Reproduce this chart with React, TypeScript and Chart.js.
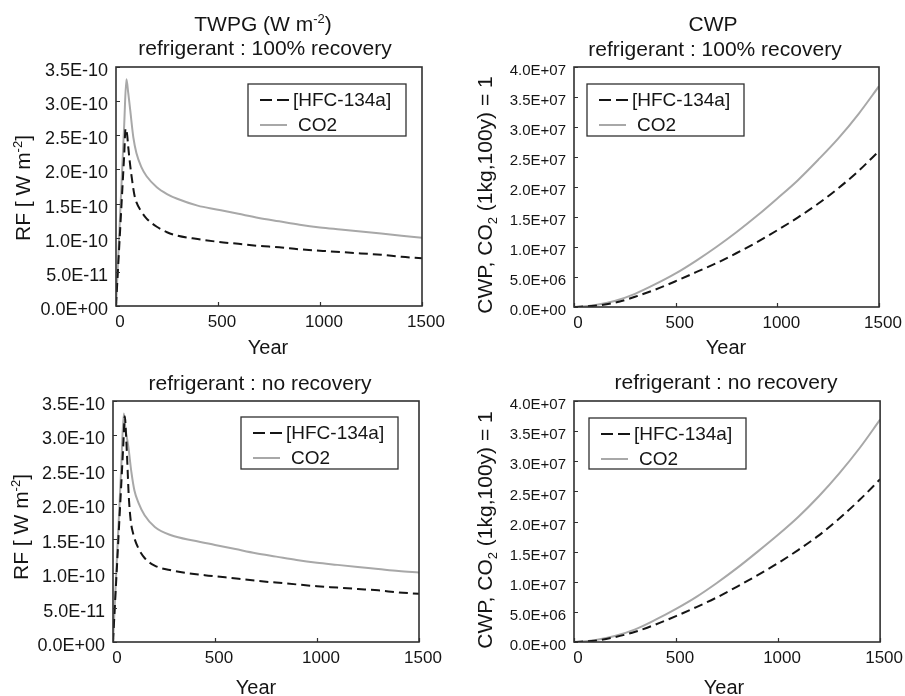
import React, { useEffect, useRef } from "react";
import { Chart, registerables } from "chart.js";

Chart.register(...registerables);

const FONT = "'Liberation Sans', Arial, Helvetica, sans-serif";
const TEXT = "#151515";
const FRAME = "#303030";
const HFC_COLOR = "#151515";
const CO2_COLOR = "#a8a8a8";

// ---------------- data ----------------
const seriesLabels = ["[HFC-134a]", "CO2"];

const yearTicks = [0, 500, 1000, 1500];
const yearTickLabels = ["0", "500", "1000", "1500"];

const RF_UNIT = 1e-10; // RF arrays below are in units of 1E-10 W m-2
const rfTicks = [0, 0.5, 1.0, 1.5, 2.0, 2.5, 3.0, 3.5];
const rfTickLabels = ["0.0E+00", "5.0E-11", "1.0E-10", "1.5E-10", "2.0E-10", "2.5E-10", "3.0E-10", "3.5E-10"];

const CWP_UNIT = 1e7; // CWP arrays below are in units of 1E+07
const cwpTicks = [0, 0.5, 1.0, 1.5, 2.0, 2.5, 3.0, 3.5, 4.0];
const cwpTickLabels = ["0.0E+00", "5.0E+06", "1.0E+07", "1.5E+07", "2.0E+07", "2.5E+07", "3.0E+07", "3.5E+07", "4.0E+07"];

// TWPG, 100% recovery
const hfcRfRecYears = [0, 10, 20, 30, 40, 47, 55, 60, 70, 80, 90, 100, 125, 150, 200, 250, 300, 400, 500, 600, 700, 800, 900, 1000, 1100, 1200, 1300, 1400, 1500];
const hfcRfRec = [0, 0.55, 1.1, 1.65, 2.2, 2.6, 2.5, 2.33, 2.05, 1.82, 1.63, 1.52, 1.38, 1.28, 1.16, 1.08, 1.03, 0.98, 0.94, 0.91, 0.88, 0.86, 0.83, 0.81, 0.79, 0.77, 0.75, 0.72, 0.7];
const co2RfRecYears = [0, 10, 20, 30, 40, 51, 60, 70, 85, 100, 125, 150, 200, 250, 300, 400, 500, 600, 700, 800, 900, 1000, 1100, 1200, 1300, 1400, 1500];
const co2RfRec = [0, 0.66, 1.32, 1.98, 2.64, 3.32, 3.12, 2.86, 2.47, 2.24, 2.03, 1.9, 1.74, 1.64, 1.57, 1.47, 1.41, 1.35, 1.29, 1.24, 1.19, 1.15, 1.12, 1.09, 1.06, 1.03, 1.0];

// TWPG, no recovery
const hfcRfNoYears = [0, 10, 20, 30, 40, 50, 58, 64, 70, 77, 87, 100, 123, 155, 204, 286, 450, 550, 700, 850, 1000, 1100, 1200, 1300, 1400, 1500];
const hfcRfNo = [0, 0.57, 1.13, 1.7, 2.26, 2.83, 3.28, 3.0, 2.62, 2.13, 1.76, 1.56, 1.37, 1.22, 1.11, 1.04, 0.97, 0.94, 0.89, 0.85, 0.81, 0.79, 0.77, 0.75, 0.72, 0.7];
const co2RfNoYears = [0, 10, 20, 30, 40, 53, 60, 75, 90, 105, 125, 155, 205, 285, 400, 500, 600, 700, 800, 900, 1000, 1100, 1200, 1300, 1400, 1500];
const co2RfNo = [0, 0.63, 1.26, 1.88, 2.51, 3.32, 3.12, 2.84, 2.47, 2.2, 2.02, 1.84, 1.67, 1.55, 1.47, 1.41, 1.35, 1.29, 1.24, 1.19, 1.15, 1.12, 1.09, 1.06, 1.03, 1.01];

// CWP
const cwpYears = [0, 100, 200, 300, 400, 500, 600, 700, 800, 900, 1000, 1100, 1200, 1300, 1400, 1500];
const hfcCwpRec = [0, 0.02, 0.07, 0.17, 0.29, 0.43, 0.58, 0.73, 0.9, 1.08, 1.28, 1.49, 1.72, 1.98, 2.27, 2.6];
const co2CwpRec = [0, 0.03, 0.1, 0.22, 0.38, 0.56, 0.77, 1.0, 1.25, 1.52, 1.81, 2.11, 2.45, 2.81, 3.22, 3.68];
const hfcCwpNo = [0, 0.02, 0.08, 0.17, 0.29, 0.43, 0.58, 0.74, 0.92, 1.11, 1.31, 1.53, 1.77, 2.05, 2.36, 2.7];
const co2CwpNo = [0, 0.03, 0.1, 0.21, 0.37, 0.55, 0.75, 0.98, 1.23, 1.5, 1.78, 2.08, 2.42, 2.8, 3.22, 3.69];

// ---------------- helpers ----------------
type Seg = { t: string; k?: "sup" | "sub" };
type Pt = { x: number; y: number };

const pts = (xs: number[], ys: number[], unit: number): Pt[] => xs.map((x, i) => ({ x, y: ys[i] * unit }));

function drawRich(ctx: CanvasRenderingContext2D, segs: Seg[], cx: number, base: number, size: number, rotate = false) {
  ctx.save();
  const small = size * 0.62;
  const widths = segs.map((s) => {
    ctx.font = `${s.k ? small : size}px ${FONT}`;
    return ctx.measureText(s.t).width;
  });
  const total = widths.reduce((a, b) => a + b, 0);
  if (rotate) {
    ctx.translate(cx, base);
    ctx.rotate(-Math.PI / 2);
    cx = 0;
    base = 0;
  }
  ctx.fillStyle = TEXT;
  ctx.textAlign = "left";
  ctx.textBaseline = "alphabetic";
  let x = cx - total / 2;
  segs.forEach((s, i) => {
    ctx.font = `${s.k ? small : size}px ${FONT}`;
    const dy = s.k === "sup" ? -size * 0.38 : s.k === "sub" ? size * 0.22 : 0;
    ctx.fillText(s.t, x, base + dy);
    x += widths[i];
  });
  ctx.restore();
}

type PanelSpec = {
  box: { x: number; y: number; w: number; h: number };
  area: { left: number; right: number; top: number; bottom: number };
  unit: number;
  yTicks: number[];
  yTickLabels: string[];
  yMax: number;
  yTickSize: number;
  hfc: Pt[];
  co2: Pt[];
  titles: { segs: Seg[]; cx: number; base: number }[];
  yLabel: { segs: Seg[]; bx: number; cy: number };
  xLabel: { cx: number; base: number };
  legend: { x: number; y: number; w: number; h: number };
};

const framePlugin = {
  id: "frameTicks",
  afterDatasetsDraw(chart: any) {
    const { ctx, chartArea: a, scales } = chart;
    ctx.save();
    ctx.strokeStyle = FRAME;
    ctx.lineWidth = 1.2;
    ctx.beginPath();
    scales.y.ticks.forEach((t: any) => {
      const py = Math.round(scales.y.getPixelForValue(t.value)) + 0.5;
      ctx.moveTo(a.left, py);
      ctx.lineTo(a.left + 4, py);
    });
    scales.x.ticks.forEach((t: any) => {
      const px = Math.round(scales.x.getPixelForValue(t.value)) + 0.5;
      ctx.moveTo(px, a.bottom);
      ctx.lineTo(px, a.bottom - 4);
    });
    ctx.stroke();
    ctx.lineWidth = 1.6;
    ctx.strokeRect(a.left, a.top, a.right - a.left, a.bottom - a.top);
    ctx.restore();
  },
};

function textPlugin(spec: PanelSpec) {
  const ox = spec.box.x;
  const oy = spec.box.y;
  return {
    id: "richText",
    afterDraw(chart: any) {
      const ctx: CanvasRenderingContext2D = chart.ctx;
      spec.titles.forEach((t) => drawRich(ctx, t.segs, t.cx - ox, t.base - oy, 21));
      drawRich(ctx, spec.yLabel.segs, spec.yLabel.bx - ox, spec.yLabel.cy - oy, 21, true);
      drawRich(ctx, [{ t: "Year" }], spec.xLabel.cx - ox, spec.xLabel.base - oy, 20);

      // legend
      const L = spec.legend;
      const lx = L.x - ox;
      const ly = L.y - oy;
      ctx.save();
      ctx.fillStyle = "#ffffff";
      ctx.fillRect(lx, ly, L.w, L.h);
      ctx.strokeStyle = FRAME;
      ctx.lineWidth = 1.3;
      ctx.strokeRect(lx, ly, L.w, L.h);
      const r1 = ly + 16;
      const r2 = ly + 41;
      ctx.lineWidth = 2;
      ctx.strokeStyle = HFC_COLOR;
      ctx.setLineDash([12, 5]);
      ctx.beginPath();
      ctx.moveTo(lx + 12, r1);
      ctx.lineTo(lx + 42, r1);
      ctx.stroke();
      ctx.setLineDash([]);
      ctx.strokeStyle = CO2_COLOR;
      ctx.beginPath();
      ctx.moveTo(lx + 12, r2);
      ctx.lineTo(lx + 39, r2);
      ctx.stroke();
      ctx.fillStyle = TEXT;
      ctx.font = `19px ${FONT}`;
      ctx.textAlign = "left";
      ctx.textBaseline = "middle";
      ctx.fillText(seriesLabels[0], lx + 45, r1 + 1);
      ctx.fillText(seriesLabels[1], lx + 50, r2 + 1);
      ctx.restore();
    },
  };
}

function buildConfig(spec: PanelSpec): any {
  const { box, area } = spec;
  return {
    type: "line",
    data: {
      datasets: [
        {
          label: seriesLabels[0],
          data: spec.hfc,
          borderColor: HFC_COLOR,
          borderWidth: 2,
          borderDash: [9, 5],
          pointRadius: 0,
          fill: false,
          cubicInterpolationMode: "monotone",
        },
        {
          label: seriesLabels[1],
          data: spec.co2,
          borderColor: CO2_COLOR,
          borderWidth: 2,
          pointRadius: 0,
          fill: false,
          cubicInterpolationMode: "monotone",
        },
      ],
    },
    options: {
      responsive: false,
      animation: false,
      events: [],
      layout: {
        padding: {
          top: area.top - box.y,
          right: box.x + box.w - area.right,
          left: 0,
          bottom: 0,
        },
      },
      plugins: {
        legend: { display: false },
        title: { display: false },
        tooltip: { enabled: false },
      },
      scales: {
        x: {
          type: "linear",
          min: 0,
          max: 1500,
          afterFit: (s: any) => {
            s.height = box.y + box.h - area.bottom;
          },
          afterBuildTicks: (s: any) => {
            s.ticks = yearTicks.map((v) => ({ value: v }));
          },
          grid: { display: false, drawTicks: false },
          border: { display: false },
          ticks: {
            callback: (_v: any, i: number) => yearTickLabels[i],
            font: { family: FONT, size: 17 },
            color: TEXT,
            padding: 6,
            maxRotation: 0,
            minRotation: 0,
            autoSkip: false,
            labelOffset: 4,
          },
        },
        y: {
          type: "linear",
          min: 0,
          max: spec.yMax * spec.unit,
          afterFit: (s: any) => {
            s.width = area.left - box.x;
          },
          afterBuildTicks: (s: any) => {
            s.ticks = spec.yTicks.map((v) => ({ value: v * spec.unit }));
          },
          grid: { display: false, drawTicks: false },
          border: { display: false },
          ticks: {
            callback: (_v: any, i: number) => spec.yTickLabels[i],
            font: { family: FONT, size: spec.yTickSize },
            color: TEXT,
            padding: 8,
            autoSkip: false,
            labelOffset: 4,
          },
        },
      },
    },
    plugins: [framePlugin, textPlugin(spec)],
  };
}

const rfYLabel: Seg[] = [{ t: "RF [ W m" }, { t: "-2", k: "sup" }, { t: "]" }];
const cwpYLabel: Seg[] = [{ t: "CWP, CO" }, { t: "2", k: "sub" }, { t: " (1kg,100y) = 1" }];

const panels: PanelSpec[] = [
  {
    box: { x: 0, y: 0, w: 452, h: 362 },
    area: { left: 116, right: 422, top: 67, bottom: 306 },
    unit: RF_UNIT,
    yTicks: rfTicks,
    yTickLabels: rfTickLabels,
    yMax: 3.5,
    yTickSize: 18,
    hfc: pts(hfcRfRecYears, hfcRfRec, RF_UNIT),
    co2: pts(co2RfRecYears, co2RfRec, RF_UNIT),
    titles: [
      { segs: [{ t: "TWPG (W m" }, { t: "-2", k: "sup" }, { t: ")" }], cx: 263, base: 31 },
      { segs: [{ t: "refrigerant : 100% recovery" }], cx: 265, base: 55 },
    ],
    yLabel: { segs: rfYLabel, bx: 29.5, cy: 188 },
    xLabel: { cx: 268, base: 354 },
    legend: { x: 248, y: 84, w: 158, h: 52 },
  },
  {
    box: { x: 452, y: 0, w: 453, h: 362 },
    area: { left: 574, right: 879, top: 67, bottom: 307 },
    unit: CWP_UNIT,
    yTicks: cwpTicks,
    yTickLabels: cwpTickLabels,
    yMax: 4.0,
    yTickSize: 15,
    hfc: pts(cwpYears, hfcCwpRec, CWP_UNIT),
    co2: pts(cwpYears, co2CwpRec, CWP_UNIT),
    titles: [
      { segs: [{ t: "CWP" }], cx: 713, base: 31 },
      { segs: [{ t: "refrigerant : 100% recovery" }], cx: 715, base: 56 },
    ],
    yLabel: { segs: cwpYLabel, bx: 492, cy: 195 },
    xLabel: { cx: 726, base: 354 },
    legend: { x: 587, y: 84, w: 157, h: 52 },
  },
  {
    box: { x: 0, y: 362, w: 452, h: 334 },
    area: { left: 113, right: 419, top: 401, bottom: 642 },
    unit: RF_UNIT,
    yTicks: rfTicks,
    yTickLabels: rfTickLabels,
    yMax: 3.5,
    yTickSize: 18,
    hfc: pts(hfcRfNoYears, hfcRfNo, RF_UNIT),
    co2: pts(co2RfNoYears, co2RfNo, RF_UNIT),
    titles: [{ segs: [{ t: "refrigerant : no recovery" }], cx: 260, base: 390 }],
    yLabel: { segs: rfYLabel, bx: 28, cy: 527 },
    xLabel: { cx: 256, base: 694 },
    legend: { x: 241, y: 417, w: 157, h: 52 },
  },
  {
    box: { x: 452, y: 362, w: 453, h: 334 },
    area: { left: 574, right: 881, top: 401, bottom: 642 },
    unit: CWP_UNIT,
    yTicks: cwpTicks,
    yTickLabels: cwpTickLabels,
    yMax: 4.0,
    yTickSize: 15,
    hfc: pts(cwpYears, hfcCwpNo, CWP_UNIT),
    co2: pts(cwpYears, co2CwpNo, CWP_UNIT),
    titles: [{ segs: [{ t: "refrigerant : no recovery" }], cx: 726, base: 389 }],
    yLabel: { segs: cwpYLabel, bx: 492, cy: 530 },
    xLabel: { cx: 724, base: 694 },
    legend: { x: 589, y: 418, w: 157, h: 51 },
  },
];

function Panel({ spec }: { spec: PanelSpec }) {
  const ref = useRef<HTMLCanvasElement>(null);
  useEffect(() => {
    if (!ref.current) return;
    const chart = new Chart(ref.current, buildConfig(spec));
    return () => chart.destroy();
  }, [spec]);
  return (
    <canvas
      ref={ref}
      width={spec.box.w}
      height={spec.box.h}
      style={{ position: "absolute", left: spec.box.x, top: spec.box.y, width: spec.box.w, height: spec.box.h }}
    />
  );
}

export default function App() {
  return (
    <div style={{ position: "absolute", left: 0, top: 0, width: 905, height: 696, background: "#ffffff", overflow: "hidden" }}>
      {panels.map((p, i) => (
        <Panel key={i} spec={p} />
      ))}
    </div>
  );
}
